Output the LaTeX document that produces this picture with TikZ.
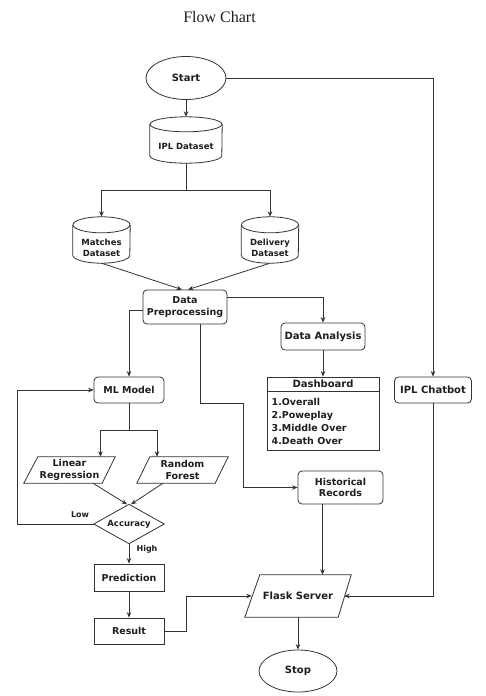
\documentclass[tikz,border=0pt]{standalone}
\usepackage{fontspec}
\setmainfont{DejaVu Sans}
\newfontfamily\titlefont{Liberation Serif}
\usetikzlibrary{shapes.geometric,arrows.meta}
\definecolor{linec}{HTML}{333333}
\definecolor{textc}{HTML}{1E1E1E}
\newcommand\drawcyl[3]{%
  \draw[line] ([yshift=-#3pt]#1.north) ellipse [x radius=#2pt, y radius=#3pt];
  \draw[line] ([yshift=-#3pt]#1.north west) -- ([yshift=#3pt]#1.south west)
     arc[start angle=180, end angle=360, x radius=#2pt, y radius=#3pt]
     -- ([yshift=-#3pt]#1.north east);
}
\newcommand\drawpara[3]{%
  \draw[line] ([xshift=#2pt]#1.north west) -- (#1.north east) -- ([xshift=-#3pt]#1.south east) -- (#1.south west) -- cycle;
}
\begin{document}
\begin{tikzpicture}[x=1pt,y=-1pt,
  line/.style={draw=linec, line width=0.8pt},
  arr/.style={line, -{Stealth[length=5.5pt,width=4.5pt]}},
  fa/.style={font=\bfseries\fontsize{10}{12.3}\selectfont},
  fb/.style={font=\bfseries\fontsize{9.5}{11.5}\selectfont},
  fc/.style={font=\bfseries\fontsize{8.5}{11}\selectfont},
  txt/.style={text=textc, align=center, inner sep=0pt},
  rbox/.style={txt, draw=linec, line width=0.8pt, rounded corners=4pt},
  sbox/.style={txt, draw=linec, line width=0.8pt},
  term/.style={txt, ellipse, draw=linec, line width=0.8pt},
  lbl/.style={txt, font=\bfseries\fontsize{8}{10}\selectfont}
]
\fill[white] (0,0) rectangle (485,696);
\useasboundingbox (0,0) rectangle (485,696);

% title
\node[txt, font=\titlefont\fontsize{16}{18}\selectfont] (title) at (219.5,17) {Flow Chart};

% terminals
\node[term, fa, minimum width=80pt, minimum height=43pt] (start) at (186,78) {Start};
\node[term, fa, minimum width=78pt, minimum height=42pt] (stop) at (298,671) {Stop};

% cylinders
\node[txt, minimum width=72pt, minimum height=46pt] (ipl) at (186,140) {};
\drawcyl{ipl}{36}{7.5}
\node[txt, fc] (iplt) at (186,146) {IPL Dataset};

\node[txt, minimum width=57pt, minimum height=46pt] (match) at (101.5,240) {};
\drawcyl{match}{28.5}{8}
\node[txt, fc] (matcht) at (101.5,247.5) {Matches\\Dataset};

\node[txt, minimum width=57pt, minimum height=46pt] (deliv) at (270,240) {};
\drawcyl{deliv}{28.5}{8}
\node[txt, fc] (delivt) at (270,247.5) {Delivery\\Dataset};

% boxes
\node[rbox, fb, minimum width=84pt, minimum height=34pt] (dp) at (185,307) {Data\\Preprocessing};
\node[rbox, fa, minimum width=84pt, minimum height=27pt] (da) at (323,336.5) {Data Analysis};
\node[rbox, fb, minimum width=70pt, minimum height=26pt] (ml) at (129,390) {ML Model};
\node[rbox, fa, minimum width=77pt, minimum height=26pt] (chat) at (433,390) {IPL Chatbot};
\node[rbox, fb, minimum width=85pt, minimum height=33pt] (hist) at (340.5,487.5) {Historical\\Records};
\node[sbox, fb, minimum width=70pt, minimum height=27pt] (pred) at (129,577.5) {Prediction};
\node[sbox, fb, minimum width=70pt, minimum height=26pt] (res) at (129,631) {Result};

% dashboard
\node[sbox, minimum width=112pt, minimum height=73pt] (dash) at (323,413.5) {};
\draw[line] ([yshift=-15pt]dash.north west) -- ([yshift=-15pt]dash.north east);
\node[txt, fa] (dashh) at ([yshift=-7.5pt]dash.north) {Dashboard};
\node[txt, anchor=west, align=left, font=\bfseries\fontsize{9.5}{13}\selectfont] (dashi) at (271.5,421.5) {1.Overall\\2.Poweplay\\3.Middle Over\\4.Death Over};

% parallelograms
\node[txt, fb, minimum width=91pt, minimum height=26pt] (lr) at (69.5,470) {Linear\\Regression};
\drawpara{lr}{14}{13}
\node[txt, fb, minimum width=91pt, minimum height=26pt] (rf) at (182.5,470) {Random\\Forest};
\drawpara{rf}{13}{13}
\node[txt, fa, minimum width=106pt, minimum height=42pt] (flask) at (298,596) {Flask Server};
\drawpara{flask}{15}{13}

% diamond
\node[txt, fc, minimum width=70pt, minimum height=39pt] (acc) at (129,524) {Accuracy};
\draw[line] (acc.north) -- (acc.east) -- (acc.south) -- (acc.west) -- cycle;

% labels
\node[lbl] (low) at (80,515) {Low};
\node[lbl] (high) at (147,549) {High};

% coordinates
\coordinate (s1) at (186,190);
\coordinate (s2) at (129,430);
\coordinate (bend) at (243,403);
\coordinate (loopx) at (17,524);
\coordinate (resx) at (186,631);

% connectors
\draw[arr] (start.south) -- (ipl.north);
\draw[arr] (start.east) -| (chat.north);
\draw[line] (ipl.south) -- (s1);
\draw[arr] (s1) -| (match.north);
\draw[arr] (s1) -| (deliv.north);
\draw[arr] (match.south) -- ([xshift=-3pt]dp.north);
\draw[arr] (deliv.south) -- ([xshift=3pt]dp.north);
\draw[arr] ([yshift=10pt]dp.east) -| (da.north);
\draw[arr] (da.south) -- (dash.north);
\draw[arr] ([yshift=-3pt]dp.west) -| (ml.north);
\draw[arr] ([xshift=15pt]dp.south) |- (bend) |- (hist.west);
\draw[line] (ml.south) -- (s2);
\draw[arr] (s2) -| ([xshift=31pt]lr.north);
\draw[arr] (s2) -| ([xshift=-25.5pt]rf.north);
\draw[arr] ([xshift=23.5pt]lr.south) -- ([xshift=-2pt]acc.north);
\draw[arr] ([xshift=-19.5pt]rf.south) -- ([xshift=2pt]acc.north);
\draw[arr] (acc.west) -- (loopx) |- (ml.west);
\draw[arr] (acc.south) -- (pred.north);
\draw[arr] (pred.south) -- (res.north);
\draw[arr] (res.east) -- (resx) |- ([xshift=7pt]flask.west);
\draw[arr] ([xshift=-18pt]hist.south) -- ([xshift=-18pt]hist.south |- flask.north);
\draw[arr] (chat.south) |- ([xshift=-7pt]flask.east);
\draw[arr] (flask.south) -- (stop.north);
\end{tikzpicture}
\end{document}
